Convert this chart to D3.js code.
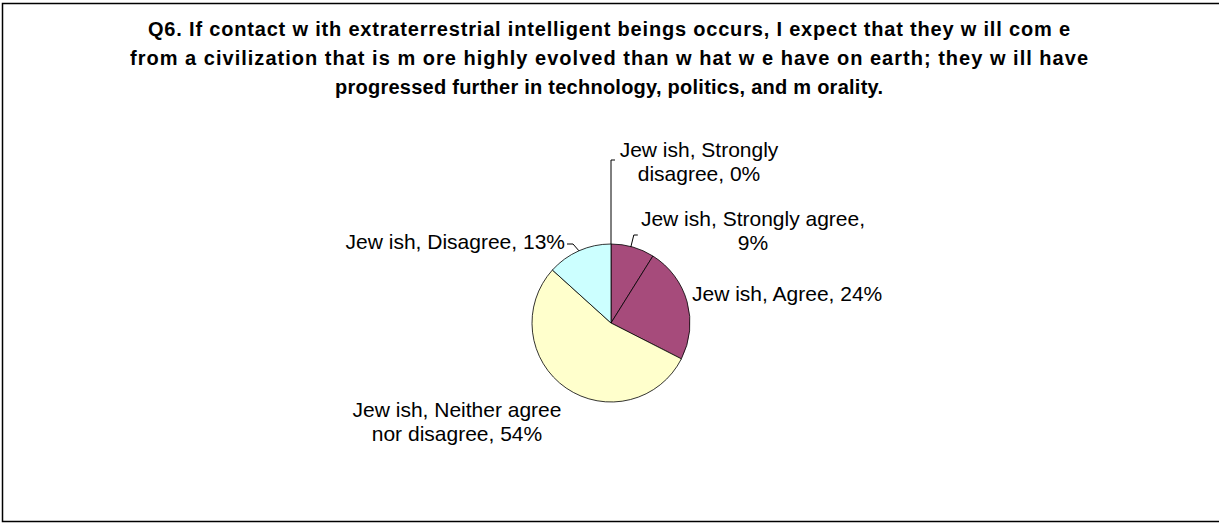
<!DOCTYPE html>
<html><head><meta charset="utf-8">
<script src="https://cdn.jsdelivr.net/npm/d3@7"></script>
<style>body{margin:0;background:#fff;} svg{display:block;} text{font-family:"Liberation Sans",Arial,sans-serif;fill:#000;}</style>
</head><body>
<script>
const categories = ["Strongly disagree","Strongly agree","Agree","Neither agree nor disagree","Disagree"];
const values = [0, 8.9, 23.6, 54.2, 13.3];
const labelPcts = ["0%","9%","24%","54%","13%"];
const titleLines = [
  "Q6. If contact w ith extraterrestrial intelligent beings occurs, I expect that they w ill com e",
  "from a civilization that is m ore highly evolved than w hat w e have on earth; they w ill have",
  "progressed further in technology, politics, and m orality."
];
const labelLines = [
  ["Jew ish, Strongly", "disagree, 0%"],
  ["Jew ish, Strongly agree,", "9%"],
  ["Jew ish, Agree, 24%"],
  ["Jew ish, Neither agree", "nor disagree, 54%"],
  ["Jew ish, Disagree, 13%"]
];
const colors = ["#A64B7B","#A64B7B","#A64B7B","#FFFFCC","#CCFFFF"];

const W = 1219, H = 523;
const svg = d3.select("body").append("svg").attr("width", W).attr("height", H);
svg.append("rect").attr("x",2.5).attr("y",3.5).attr("width",1240).attr("height",518)
  .attr("fill","#fff").attr("stroke","#000").attr("stroke-width",1.5);

const titleWidths = [922, 958, 548];
svg.append("g").selectAll("text").data(titleLines).join("text")
  .attr("x", 609).attr("y", (d,i)=>36 + i*29)
  .attr("text-anchor","middle").attr("font-weight","bold").attr("font-size",20)
  .attr("textLength",(d,i)=>titleWidths[i]).attr("lengthAdjust","spacing")
  .text(d=>d);

const cx = 611, cy = 323, r = 79;
const pie = d3.pie().sort(null).value(d=>d)(values);
const arc = d3.arc().innerRadius(0).outerRadius(r);
const g = svg.append("g").attr("transform",`translate(${cx},${cy})`);
g.selectAll("path").data(pie).join("path")
  .attr("d", arc).attr("fill",(d,i)=>colors[i]).attr("stroke","#000").attr("stroke-width",0.8);

const labelPos = [
  {x:699, y:157, anchor:"middle"},
  {x:753, y:226, anchor:"middle"},
  {x:692, y:301, anchor:"start"},
  {x:457, y:417, anchor:"middle"},
  {x:565, y:249, anchor:"end"}
];
const lineH = 24;
labelLines.forEach((lines,i)=>{
  const p = labelPos[i];
  svg.append("text").attr("text-anchor",p.anchor).attr("font-size",21)
    .selectAll("tspan").data(lines).join("tspan")
    .attr("x",p.x).attr("y",(d,j)=>p.y + j*lineH).text(d=>d);
});

const edge = (d)=>{ const a=(d.startAngle+d.endAngle)/2; return [cx + r*Math.sin(a), cy - r*Math.cos(a)]; };
const leader = d3.line();
const e0 = edge(pie[0]);
svg.append("path").attr("d", leader([e0,[e0[0],160],[e0[0]+4,160]])).attr("fill","none").attr("stroke","#000").attr("stroke-width",1);
const e1 = edge(pie[1]);
svg.append("path").attr("d", leader([[e1[0]-2,e1[1]],[e1[0]+1,235],[e1[0]+5,235]])).attr("fill","none").attr("stroke","#000").attr("stroke-width",1);
const e4 = edge(pie[4]);
svg.append("path").attr("d", leader([[567,244],[573,244],[e4[0],e4[1]]])).attr("fill","none").attr("stroke","#000").attr("stroke-width",1);
</script>
</body></html>
